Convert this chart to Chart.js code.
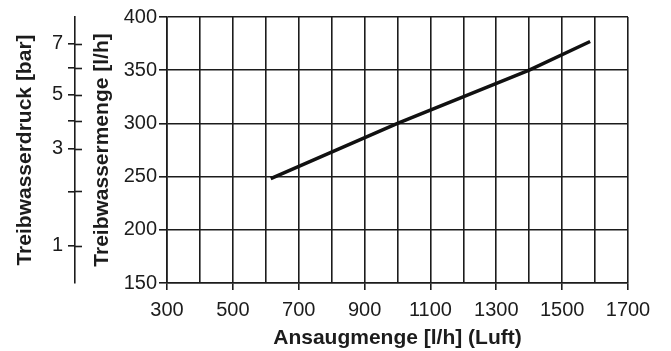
<!DOCTYPE html>
<html>
<head>
<meta charset="utf-8">
<script src="https://cdn.jsdelivr.net/npm/chart.js@4"></script>
<style>
  html, body { margin: 0; padding: 0; background: #fff; }
  #wrap { width: 671px; height: 351px; }
</style>
</head>
<body>
<div id="wrap"><canvas id="chart" width="671" height="351"></canvas></div>
<script>
// Ansaugmenge (Luft) vs. Treibwassermenge
const airFlow = [615, 1000, 1400, 1585];
const waterFlow = [248, 300, 350, 377];

// Treibwasserdruck scale: pressure marks and the water flow they sit at
const pressureTicks = [1, 2, 3, 4, 5, 6, 7];
const pressureAtFlow = [185, 236, 276, 302, 327, 352, 375];

const ink = '#1c1c1c';
const fontFamily = "'Liberation Sans', Arial, Helvetica, sans-serif";

// tick marks of the pressure axis cross the axis line
const crossTicks = {
    id: 'crossTicks',
    afterDraw(chart) {
        const scale = chart.scales.yPress;
        const ctx = chart.ctx;
        ctx.save();
        ctx.strokeStyle = ink;
        ctx.lineWidth = 1.6;
        scale.ticks.forEach((t, i) => {
            const y = Math.round(scale.getPixelForTick(i)) + 0.5;
            ctx.beginPath();
            ctx.moveTo(scale.right, y);
            ctx.lineTo(scale.right + 7, y);
            ctx.stroke();
        });
        ctx.restore();
    }
};

new Chart(document.getElementById('chart'), {
    type: 'line',
    data: {
        datasets: [{
            data: airFlow.map((x, i) => ({ x: x, y: waterFlow[i] })),
            borderColor: '#111',
            borderWidth: 3.5,
            pointRadius: 0,
            tension: 0,
            yAxisID: 'y'
        }]
    },
    options: {
        responsive: false,
        animation: false,
        layout: { padding: { top: 13, right: 43, left: 0, bottom: 0 } },
        plugins: { legend: { display: false }, tooltip: { enabled: false } },
        scales: {
            x: {
                type: 'linear',
                min: 300,
                max: 1700,
                afterFit: s => { s.height = 68; },
                ticks: {
                    stepSize: 100,
                    autoSkip: false,
                    maxRotation: 0,
                    padding: 8,
                    color: ink,
                    font: { family: fontFamily, size: 20 },
                    callback: v => (v % 200 === 100 ? v : '')
                },
                grid: {
                    color: ink,
                    lineWidth: 1.6,
                    tickLength: 7,
                    tickColor: c => (c.tick && c.tick.value % 200 === 100 ? ink : 'rgba(0,0,0,0)')
                },
                border: { color: ink, width: 1.6 },
                title: {
                    display: true,
                    text: 'Ansaugmenge [l/h] (Luft)',
                    color: ink,
                    font: { family: fontFamily, size: 21, weight: 'bold' },
                    padding: { top: 0, bottom: 0 }
                }
            },
            y: {
                type: 'linear',
                position: 'left',
                weight: 0,
                min: 150,
                max: 400,
                afterFit: s => { s.width = 92; },
                ticks: {
                    stepSize: 50,
                    padding: 2,
                    color: ink,
                    font: { family: fontFamily, size: 20 }
                },
                grid: { color: ink, lineWidth: 1.6, tickLength: 8, tickColor: ink },
                border: { color: ink, width: 1.6 },
                title: {
                    display: true,
                    text: 'Treibwassermenge [l/h]',
                    color: ink,
                    font: { family: fontFamily, size: 21, weight: 'bold' },
                    padding: { top: 15, bottom: 0 }
                }
            },
            yPress: {
                type: 'linear',
                position: 'left',
                weight: 1,
                min: 150,
                max: 400,
                afterFit: s => { s.width = 75; },
                afterBuildTicks: s => {
                    s.ticks = pressureAtFlow.map(v => ({ value: v }));
                },
                ticks: {
                    autoSkip: false,
                    padding: 5,
                    color: ink,
                    font: { family: fontFamily, size: 20 },
                    callback: (v, i) => (pressureTicks[i] % 2 === 1 ? String(pressureTicks[i]) : '')
                },
                grid: { drawOnChartArea: false, tickLength: 7, tickColor: ink, lineWidth: 1.6 },
                border: { color: ink, width: 1.6 },
                title: {
                    display: true,
                    text: 'Treibwasserdruck [bar]',
                    color: ink,
                    font: { family: fontFamily, size: 21, weight: 'bold' },
                    padding: { top: 13, bottom: 0 }
                }
            }
        }
    },
    plugins: [crossTicks]
});
</script>
</body>
</html>
